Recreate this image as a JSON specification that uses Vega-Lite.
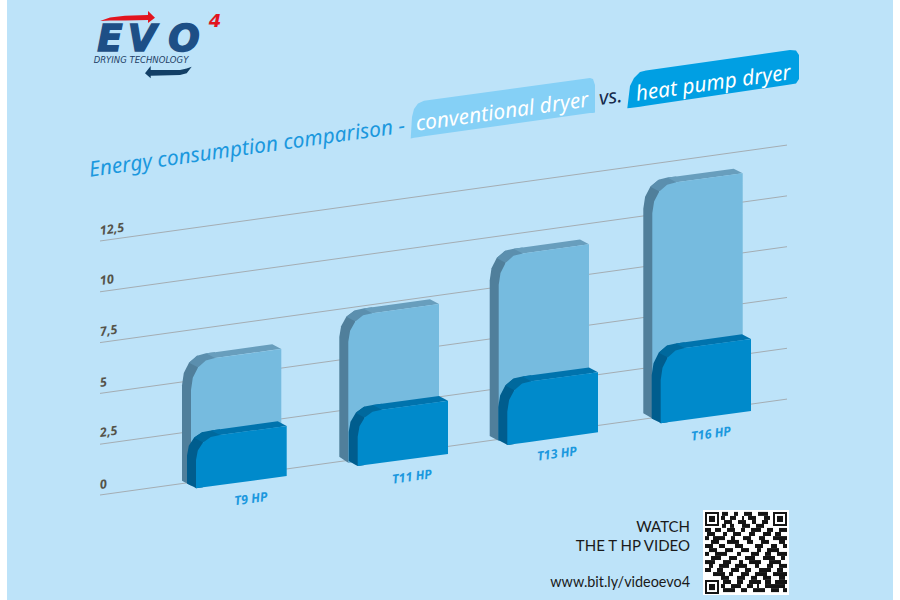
{"$schema":"https://vega.github.io/schema/vega-lite/v6.json","width":900,"height":600,"autosize":{"type":"fit","contains":"padding"},"padding":0,"background":"#ffffff","view":{"stroke":null},
"datasets":{
"bars":[
{"b":"T9","k":"ls","x":182,"y":5.40,"y2":0.70},{"b":"T9","k":"ls","x":183.8,"y":6.00,"y2":0.65},{"b":"T9","k":"ls","x":189,"y":6.51,"y2":0.52},{"b":"T9","k":"ls","x":191,"y":6.60,"y2":0.47},{"b":"T9","k":"ls","x":198,"y":6.87,"y2":0.52},
{"b":"T9","k":"lb","x":189,"y":6.51,"y2":6.51},{"b":"T9","k":"lb","x":196.8,"y":6.85,"y2":6.31},{"b":"T9","k":"lb","x":198,"y":6.87,"y2":6.28},{"b":"T9","k":"lb","x":206,"y":6.97,"y2":6.28},{"b":"T9","k":"lb","x":215,"y":7.03,"y2":6.28},
{"b":"T9","k":"lt","x":206,"y":6.97,"y2":6.97},{"b":"T9","k":"lt","x":215,"y":7.03,"y2":6.74},{"b":"T9","k":"lt","x":272.3,"y":7.42,"y2":7.13},{"b":"T9","k":"lt","x":281.3,"y":7.18,"y2":7.18},
{"b":"T9","k":"lf","x":191,"y":5.17,"y2":0.47},{"b":"T9","k":"lf","x":192.8,"y":5.77,"y2":0.48},{"b":"T9","k":"lf","x":198,"y":6.28,"y2":0.52},{"b":"T9","k":"lf","x":205.8,"y":6.62,"y2":0.57},{"b":"T9","k":"lf","x":215,"y":6.74,"y2":0.63},{"b":"T9","k":"lf","x":281.3,"y":7.18,"y2":1.07},
{"b":"T11","k":"ls","x":339.3,"y":7.77,"y2":1.88},{"b":"T11","k":"ls","x":341.1,"y":8.31,"y2":1.82},{"b":"T11","k":"ls","x":346.3,"y":8.77,"y2":1.65},{"b":"T11","k":"ls","x":348.3,"y":8.85,"y2":1.59},{"b":"T11","k":"ls","x":355.3,"y":9.09,"y2":1.64},
{"b":"T11","k":"lb","x":346.3,"y":8.77,"y2":8.77},{"b":"T11","k":"lb","x":354.1,"y":9.07,"y2":8.57},{"b":"T11","k":"lb","x":355.3,"y":9.09,"y2":8.54},{"b":"T11","k":"lb","x":363.3,"y":9.18,"y2":8.54},{"b":"T11","k":"lb","x":372.3,"y":9.24,"y2":8.54},
{"b":"T11","k":"lt","x":363.3,"y":9.18,"y2":9.18},{"b":"T11","k":"lt","x":372.3,"y":9.24,"y2":8.95},{"b":"T11","k":"lt","x":430,"y":9.63,"y2":9.34},{"b":"T11","k":"lt","x":439,"y":9.40,"y2":9.40},
{"b":"T11","k":"lf","x":348.3,"y":7.54,"y2":1.59},{"b":"T11","k":"lf","x":350.1,"y":8.08,"y2":1.60},{"b":"T11","k":"lf","x":355.3,"y":8.54,"y2":1.64},{"b":"T11","k":"lf","x":363.1,"y":8.84,"y2":1.69},{"b":"T11","k":"lf","x":372.3,"y":8.95,"y2":1.75},{"b":"T11","k":"lf","x":439,"y":9.40,"y2":2.20},
{"b":"T13","k":"ls","x":489.7,"y":10.56,"y2":2.90},{"b":"T13","k":"ls","x":491.5,"y":11.16,"y2":2.85},{"b":"T13","k":"ls","x":496.7,"y":11.66,"y2":2.72},{"b":"T13","k":"ls","x":498.7,"y":11.75,"y2":2.67},{"b":"T13","k":"ls","x":505.7,"y":12.03,"y2":2.72},
{"b":"T13","k":"lb","x":496.7,"y":11.66,"y2":11.66},{"b":"T13","k":"lb","x":504.5,"y":12.00,"y2":11.46},{"b":"T13","k":"lb","x":505.7,"y":12.03,"y2":11.43},{"b":"T13","k":"lb","x":513.7,"y":12.12,"y2":11.43},{"b":"T13","k":"lb","x":522.7,"y":12.18,"y2":11.43},
{"b":"T13","k":"lt","x":513.7,"y":12.12,"y2":12.12},{"b":"T13","k":"lt","x":522.7,"y":12.18,"y2":11.89},{"b":"T13","k":"lt","x":580,"y":12.57,"y2":12.28},{"b":"T13","k":"lt","x":589,"y":12.34,"y2":12.34},
{"b":"T13","k":"lf","x":498.7,"y":10.33,"y2":2.67},{"b":"T13","k":"lf","x":500.5,"y":10.93,"y2":2.68},{"b":"T13","k":"lf","x":505.7,"y":11.43,"y2":2.72},{"b":"T13","k":"lf","x":513.5,"y":11.77,"y2":2.77},{"b":"T13","k":"lf","x":522.7,"y":11.89,"y2":2.83},{"b":"T13","k":"lf","x":589,"y":12.34,"y2":3.27},
{"b":"T16","k":"ls","x":643.3,"y":14.09,"y2":4.02},{"b":"T16","k":"ls","x":645.1,"y":14.68,"y2":3.97},{"b":"T16","k":"ls","x":650.3,"y":15.17,"y2":3.83},{"b":"T16","k":"ls","x":652.3,"y":15.26,"y2":3.77},{"b":"T16","k":"ls","x":659.3,"y":15.53,"y2":3.82},
{"b":"T16","k":"lb","x":650.3,"y":15.17,"y2":15.17},{"b":"T16","k":"lb","x":658.1,"y":15.50,"y2":14.97},{"b":"T16","k":"lb","x":659.3,"y":15.53,"y2":14.94},{"b":"T16","k":"lb","x":667.3,"y":15.62,"y2":14.94},{"b":"T16","k":"lb","x":676.3,"y":15.68,"y2":14.94},
{"b":"T16","k":"lt","x":667.3,"y":15.62,"y2":15.62},{"b":"T16","k":"lt","x":676.3,"y":15.68,"y2":15.39},{"b":"T16","k":"lt","x":733.7,"y":16.06,"y2":15.77},{"b":"T16","k":"lt","x":742.7,"y":15.83,"y2":15.83},
{"b":"T16","k":"lf","x":652.3,"y":13.86,"y2":3.77},{"b":"T16","k":"lf","x":654.1,"y":14.45,"y2":3.78},{"b":"T16","k":"lf","x":659.3,"y":14.94,"y2":3.82},{"b":"T16","k":"lf","x":667.1,"y":15.27,"y2":3.87},{"b":"T16","k":"lf","x":676.3,"y":15.39,"y2":3.93},{"b":"T16","k":"lf","x":742.7,"y":15.83,"y2":4.38},
{"b":"T9","k":"ds","x":187,"y":1.95,"y2":0.57},{"b":"T9","k":"ds","x":188.8,"y":2.42,"y2":0.52},{"b":"T9","k":"ds","x":194,"y":2.82,"y2":0.39},{"b":"T9","k":"ds","x":196,"y":2.89,"y2":0.33},{"b":"T9","k":"ds","x":203,"y":3.10,"y2":0.38},
{"b":"T9","k":"db","x":194,"y":2.82,"y2":2.82},{"b":"T9","k":"db","x":201.8,"y":3.09,"y2":2.62},{"b":"T9","k":"db","x":203,"y":3.10,"y2":2.59},{"b":"T9","k":"db","x":211,"y":3.18,"y2":2.59},{"b":"T9","k":"db","x":220,"y":3.24,"y2":2.59},
{"b":"T9","k":"dt","x":211,"y":3.18,"y2":3.18},{"b":"T9","k":"dt","x":220,"y":3.24,"y2":2.95},{"b":"T9","k":"dt","x":277.7,"y":3.63,"y2":3.34},{"b":"T9","k":"dt","x":286.7,"y":3.40,"y2":3.40},
{"b":"T9","k":"df","x":196,"y":1.72,"y2":0.33},{"b":"T9","k":"df","x":197.8,"y":2.19,"y2":0.34},{"b":"T9","k":"df","x":203,"y":2.59,"y2":0.38},{"b":"T9","k":"df","x":210.8,"y":2.86,"y2":0.43},{"b":"T9","k":"df","x":220,"y":2.95,"y2":0.49},{"b":"T9","k":"df","x":286.7,"y":3.40,"y2":0.93},
{"b":"T11","k":"ds","x":348.7,"y":3.10,"y2":1.67},{"b":"T11","k":"ds","x":350.5,"y":3.61,"y2":1.62},{"b":"T11","k":"ds","x":355.7,"y":4.04,"y2":1.48},{"b":"T11","k":"ds","x":357.7,"y":4.12,"y2":1.43},{"b":"T11","k":"ds","x":364.7,"y":4.35,"y2":1.48},
{"b":"T11","k":"db","x":355.7,"y":4.04,"y2":4.04},{"b":"T11","k":"db","x":363.5,"y":4.33,"y2":3.84},{"b":"T11","k":"db","x":364.7,"y":4.35,"y2":3.81},{"b":"T11","k":"db","x":372.7,"y":4.43,"y2":3.81},{"b":"T11","k":"db","x":381.7,"y":4.49,"y2":3.81},
{"b":"T11","k":"dt","x":372.7,"y":4.43,"y2":4.43},{"b":"T11","k":"dt","x":381.7,"y":4.49,"y2":4.20},{"b":"T11","k":"dt","x":439,"y":4.87,"y2":4.58},{"b":"T11","k":"dt","x":448,"y":4.64,"y2":4.64},
{"b":"T11","k":"df","x":357.7,"y":2.87,"y2":1.43},{"b":"T11","k":"df","x":359.5,"y":3.38,"y2":1.44},{"b":"T11","k":"df","x":364.7,"y":3.81,"y2":1.48},{"b":"T11","k":"df","x":372.5,"y":4.10,"y2":1.53},{"b":"T11","k":"df","x":381.7,"y":4.20,"y2":1.59},{"b":"T11","k":"df","x":448,"y":4.64,"y2":2.02},
{"b":"T13","k":"ds","x":498.3,"y":4.33,"y2":2.71},{"b":"T13","k":"ds","x":500.1,"y":4.90,"y2":2.66},{"b":"T13","k":"ds","x":505.3,"y":5.39,"y2":2.52},{"b":"T13","k":"ds","x":507.3,"y":5.48,"y2":2.46},{"b":"T13","k":"ds","x":514.3,"y":5.74,"y2":2.51},
{"b":"T13","k":"db","x":505.3,"y":5.39,"y2":5.39},{"b":"T13","k":"db","x":513.1,"y":5.72,"y2":5.19},{"b":"T13","k":"db","x":514.3,"y":5.74,"y2":5.16},{"b":"T13","k":"db","x":522.3,"y":5.83,"y2":5.16},{"b":"T13","k":"db","x":531.3,"y":5.89,"y2":5.16},
{"b":"T13","k":"dt","x":522.3,"y":5.83,"y2":5.83},{"b":"T13","k":"dt","x":531.3,"y":5.89,"y2":5.60},{"b":"T13","k":"dt","x":589,"y":6.27,"y2":5.98},{"b":"T13","k":"dt","x":598,"y":6.04,"y2":6.04},
{"b":"T13","k":"df","x":507.3,"y":4.10,"y2":2.46},{"b":"T13","k":"df","x":509.1,"y":4.67,"y2":2.47},{"b":"T13","k":"df","x":514.3,"y":5.16,"y2":2.51},{"b":"T13","k":"df","x":522.1,"y":5.49,"y2":2.56},{"b":"T13","k":"df","x":531.3,"y":5.60,"y2":2.62},{"b":"T13","k":"df","x":598,"y":6.04,"y2":3.09},
{"b":"T16","k":"ds","x":651.7,"y":5.89,"y2":3.77},{"b":"T16","k":"ds","x":653.5,"y":6.49,"y2":3.72},{"b":"T16","k":"ds","x":658.7,"y":7.00,"y2":3.59},{"b":"T16","k":"ds","x":660.7,"y":7.09,"y2":3.53},{"b":"T16","k":"ds","x":667.7,"y":7.37,"y2":3.58},
{"b":"T16","k":"db","x":658.7,"y":7.00,"y2":7.00},{"b":"T16","k":"db","x":666.5,"y":7.34,"y2":6.80},{"b":"T16","k":"db","x":667.7,"y":7.37,"y2":6.77},{"b":"T16","k":"db","x":675.7,"y":7.46,"y2":6.77},{"b":"T16","k":"db","x":684.7,"y":7.52,"y2":6.77},
{"b":"T16","k":"dt","x":675.7,"y":7.46,"y2":7.46},{"b":"T16","k":"dt","x":684.7,"y":7.52,"y2":7.23},{"b":"T16","k":"dt","x":742,"y":7.91,"y2":7.62},{"b":"T16","k":"dt","x":751,"y":7.68,"y2":7.68},
{"b":"T16","k":"df","x":660.7,"y":5.66,"y2":3.53},{"b":"T16","k":"df","x":662.5,"y":6.26,"y2":3.54},{"b":"T16","k":"df","x":667.7,"y":6.77,"y2":3.58},{"b":"T16","k":"df","x":675.5,"y":7.11,"y2":3.63},{"b":"T16","k":"df","x":684.7,"y":7.23,"y2":3.69},{"b":"T16","k":"df","x":751,"y":7.68,"y2":4.13}
],
"grid":[{"level":0,"x":100,"y":0},{"level":0,"x":787,"y":4.72},{"level":2.5,"x":100,"y":2.5},{"level":2.5,"x":787,"y":7.22},{"level":5,"x":100,"y":5},{"level":5,"x":787,"y":9.72},{"level":7.5,"x":100,"y":7.5},{"level":7.5,"x":787,"y":12.22},{"level":10,"x":100,"y":10},{"level":10,"x":787,"y":14.72},{"level":12.5,"x":100,"y":12.5},{"level":12.5,"x":787,"y":17.22}],
"badges":[
{"k":"conv","x":410.7,"y":17.55,"y2":17.55},{"k":"conv","x":412,"y":18.60,"y2":17.56},{"k":"conv","x":414,"y":19.00,"y2":17.58},{"k":"conv","x":418,"y":19.27,"y2":17.61},{"k":"conv","x":424,"y":19.40,"y2":17.65},{"k":"conv","x":590,"y":20.52,"y2":18.80},{"k":"conv","x":593,"y":20.47,"y2":18.80},{"k":"conv","x":595,"y":20.18,"y2":18.82},
{"k":"heat","x":627.3,"y":19.03,"y2":19.03},{"k":"heat","x":630,"y":20.13,"y2":19.05},{"k":"heat","x":634,"y":20.52,"y2":19.07},{"k":"heat","x":640,"y":20.82,"y2":19.11},{"k":"heat","x":646,"y":20.89,"y2":19.16},{"k":"heat","x":790,"y":21.90,"y2":20.20},{"k":"heat","x":796,"y":21.87,"y2":20.25},{"k":"heat","x":799,"y":21.65,"y2":20.47}
],
"arrows":[
{"k":"red","x":100,"y":23.33,"y2":23.33},{"k":"red","x":110,"y":23.50,"y2":23.35},{"k":"red","x":125,"y":23.58,"y2":23.35},{"k":"red","x":148,"y":23.62,"y2":23.37},{"k":"red","x":148.01,"y":23.82,"y2":23.23},{"k":"red","x":155,"y":23.49,"y2":23.49},
{"k":"navy","x":145,"y":20.75,"y2":20.75},{"k":"navy","x":150.7,"y":21.11,"y2":20.51},{"k":"navy","x":150.71,"y":20.91,"y2":20.63},{"k":"navy","x":180,"y":20.91,"y2":20.67},{"k":"navy","x":186.7,"y":20.99,"y2":20.75},{"k":"navy","x":191.7,"y":21.08,"y2":21.08}
],
"qrRuns":[
{"y":-0.93,"x":722,"x2":728},{"y":-0.93,"x":734,"x2":738},{"y":-0.93,"x":744,"x2":752},{"y":-0.93,"x":758,"x2":768},
{"y":-1.13,"x":721,"x2":725},{"y":-1.13,"x":730,"x2":736},{"y":-1.13,"x":742,"x2":744},{"y":-1.13,"x":748,"x2":756},{"y":-1.13,"x":764,"x2":770},
{"y":-1.33,"x":724,"x2":732},{"y":-1.33,"x":738,"x2":746},{"y":-1.33,"x":752,"x2":756},{"y":-1.33,"x":762,"x2":768},
{"y":-1.52,"x":722,"x2":726},{"y":-1.52,"x":730,"x2":734},{"y":-1.52,"x":742,"x2":750},{"y":-1.52,"x":756,"x2":764},
{"y":-1.72,"x":705,"x2":711},{"y":-1.72,"x":715,"x2":721},{"y":-1.72,"x":727,"x2":735},{"y":-1.72,"x":741,"x2":745},{"y":-1.72,"x":751,"x2":761},{"y":-1.72,"x":767,"x2":773},{"y":-1.72,"x":779,"x2":787},
{"y":-1.92,"x":707,"x2":715},{"y":-1.92,"x":723,"x2":727},{"y":-1.92,"x":733,"x2":741},{"y":-1.92,"x":749,"x2":755},{"y":-1.92,"x":763,"x2":771},{"y":-1.92,"x":775,"x2":781},
{"y":-2.12,"x":705,"x2":709},{"y":-2.12,"x":713,"x2":725},{"y":-2.12,"x":731,"x2":735},{"y":-2.12,"x":743,"x2":751},{"y":-2.12,"x":759,"x2":765},{"y":-2.12,"x":773,"x2":787},
{"y":-2.31,"x":711,"x2":719},{"y":-2.31,"x":727,"x2":739},{"y":-2.31,"x":747,"x2":753},{"y":-2.31,"x":761,"x2":769},{"y":-2.31,"x":779,"x2":785},
{"y":-2.51,"x":705,"x2":713},{"y":-2.51,"x":719,"x2":725},{"y":-2.51,"x":735,"x2":743},{"y":-2.51,"x":755,"x2":763},{"y":-2.51,"x":771,"x2":777},{"y":-2.51,"x":783,"x2":787},
{"y":-2.71,"x":709,"x2":717},{"y":-2.71,"x":725,"x2":733},{"y":-2.71,"x":741,"x2":749},{"y":-2.71,"x":757,"x2":761},{"y":-2.71,"x":767,"x2":779},
{"y":-2.90,"x":705,"x2":709},{"y":-2.90,"x":715,"x2":727},{"y":-2.90,"x":737,"x2":741},{"y":-2.90,"x":751,"x2":759},{"y":-2.90,"x":765,"x2":771},{"y":-2.90,"x":777,"x2":787},
{"y":-3.10,"x":711,"x2":721},{"y":-3.10,"x":729,"x2":737},{"y":-3.10,"x":745,"x2":755},{"y":-3.10,"x":763,"x2":775},{"y":-3.10,"x":781,"x2":785},
{"y":-3.30,"x":705,"x2":715},{"y":-3.30,"x":723,"x2":731},{"y":-3.30,"x":739,"x2":743},{"y":-3.30,"x":749,"x2":761},{"y":-3.30,"x":769,"x2":781},
{"y":-3.49,"x":709,"x2":713},{"y":-3.49,"x":719,"x2":729},{"y":-3.49,"x":735,"x2":747},{"y":-3.49,"x":755,"x2":759},{"y":-3.49,"x":767,"x2":773},{"y":-3.49,"x":779,"x2":787},
{"y":-3.69,"x":705,"x2":711},{"y":-3.69,"x":717,"x2":723},{"y":-3.69,"x":731,"x2":739},{"y":-3.69,"x":745,"x2":751},{"y":-3.69,"x":759,"x2":771},{"y":-3.69,"x":777,"x2":783},
{"y":-3.89,"x":713,"x2":725},{"y":-3.89,"x":729,"x2":733},{"y":-3.89,"x":741,"x2":749},{"y":-3.89,"x":755,"x2":767},{"y":-3.89,"x":773,"x2":787},
{"y":-4.08,"x":721,"x2":729},{"y":-4.08,"x":737,"x2":745},{"y":-4.08,"x":751,"x2":757},{"y":-4.08,"x":763,"x2":771},{"y":-4.08,"x":779,"x2":785},
{"y":-4.28,"x":723,"x2":731},{"y":-4.28,"x":737,"x2":743},{"y":-4.28,"x":749,"x2":761},{"y":-4.28,"x":765,"x2":771},{"y":-4.28,"x":775,"x2":787},
{"y":-4.48,"x":721,"x2":725},{"y":-4.48,"x":731,"x2":741},{"y":-4.48,"x":747,"x2":753},{"y":-4.48,"x":757,"x2":759},{"y":-4.48,"x":765,"x2":785},
{"y":-4.68,"x":723,"x2":735},{"y":-4.68,"x":741,"x2":747},{"y":-4.68,"x":753,"x2":765},{"y":-4.68,"x":771,"x2":779},{"y":-4.68,"x":783,"x2":787}
]
},
"encoding":{
"x":{"field":"x","type":"quantitative","axis":null,"scale":{"domain":[0,900],"nice":false,"zero":false}},
"y":{"field":"y","type":"quantitative","axis":null,"scale":{"domain":[-5.167,24.36],"nice":false,"zero":false}}
},
"layer":[
{"data":{"values":[{"x":7,"x2":893,"y":-5.167,"y2":24.36}]},"mark":{"type":"rect","color":"#bde3f9"},"encoding":{"x2":{"field":"x2"},"y2":{"field":"y2"}}},
{"data":{"name":"grid"},"mark":{"type":"line","color":"#a4adb3","strokeWidth":1},"encoding":{"detail":{"field":"level"}}},
{"data":{"name":"bars"},"transform":[{"filter":"datum.k=='ls'"}],"mark":{"type":"area","color":"#507f9b"},"encoding":{"y2":{"field":"y2"},"detail":{"field":"b"}}},
{"data":{"name":"bars"},"transform":[{"filter":"datum.k=='lb'"}],"mark":{"type":"area","color":"#5b8fae"},"encoding":{"y2":{"field":"y2"},"detail":{"field":"b"}}},
{"data":{"name":"bars"},"transform":[{"filter":"datum.k=='lt'"}],"mark":{"type":"area","color":"#689ebd"},"encoding":{"y2":{"field":"y2"},"detail":{"field":"b"}}},
{"data":{"name":"bars"},"transform":[{"filter":"datum.k=='lf'"}],"mark":{"type":"area","color":"#76bbdf"},"encoding":{"y2":{"field":"y2"},"detail":{"field":"b"}}},
{"data":{"name":"bars"},"transform":[{"filter":"datum.k=='ds'"}],"mark":{"type":"area","color":"#005d8e"},"encoding":{"y2":{"field":"y2"},"detail":{"field":"b"}}},
{"data":{"name":"bars"},"transform":[{"filter":"datum.k=='db'"}],"mark":{"type":"area","color":"#00699d"},"encoding":{"y2":{"field":"y2"},"detail":{"field":"b"}}},
{"data":{"name":"bars"},"transform":[{"filter":"datum.k=='dt'"}],"mark":{"type":"area","color":"#0073ad"},"encoding":{"y2":{"field":"y2"},"detail":{"field":"b"}}},
{"data":{"name":"bars"},"transform":[{"filter":"datum.k=='df'"}],"mark":{"type":"area","color":"#008acb"},"encoding":{"y2":{"field":"y2"},"detail":{"field":"b"}}},
{"data":{"values":[{"t":"12,5","x":100,"y":12.99},{"t":"10","x":100,"y":10.53},{"t":"7,5","x":100,"y":8.02},{"t":"5","x":100,"y":5.51},{"t":"2,5","x":100,"y":3.05},{"t":"0","x":100,"y":0.49}]},"mark":{"type":"text","font":"Noto Sans","fontStyle":"italic","fontWeight":"bold","fontSize":12.5,"color":"#55534a","align":"left","baseline":"middle","angle":352},"encoding":{"text":{"field":"t"}}},
{"data":{"values":[{"t":"T9 HP","x":251,"y":-0.20},{"t":"T11 HP","x":412,"y":0.89},{"t":"T13 HP","x":557,"y":2.02},{"t":"T16 HP","x":711,"y":3.00}]},"mark":{"type":"text","font":"Noto Sans","fontStyle":"italic","fontWeight":"bold","fontSize":12.5,"color":"#1b98de","align":"center","baseline":"middle","angle":352},"encoding":{"text":{"field":"t"}}},
{"data":{"values":[{"t":"Energy consumption comparison -","x":90,"y":15.66}]},"mark":{"type":"text","font":"Noto Sans","fontStyle":"italic","fontSize":21,"color":"#1b98de","align":"left","baseline":"alphabetic","angle":352},"encoding":{"text":{"field":"t"}}},
{"data":{"name":"badges"},"transform":[{"filter":"datum.k=='conv'"}],"mark":{"type":"area","color":"#85d0f6"},"encoding":{"y2":{"field":"y2"}}},
{"data":{"name":"badges"},"transform":[{"filter":"datum.k=='heat'"}],"mark":{"type":"area","color":"#009fe3"},"encoding":{"y2":{"field":"y2"}}},
{"data":{"values":[{"t":"conventional dryer","x":416.7,"y":17.93},{"t":"heat pump dryer","x":636.7,"y":19.40}]},"mark":{"type":"text","font":"Noto Sans","fontStyle":"italic","fontSize":21,"color":"#ffffff","align":"left","baseline":"alphabetic","angle":352},"encoding":{"text":{"field":"t"}}},
{"data":{"values":[{"t":"vs.","x":600,"y":19.19}]},"mark":{"type":"text","font":"Noto Sans","fontStyle":"italic","fontSize":20,"color":"#14284a","align":"left","baseline":"alphabetic","angle":352},"encoding":{"text":{"field":"t"}}},
{"data":{"name":"arrows"},"transform":[{"filter":"datum.k=='red'"}],"mark":{"type":"area","color":"#e2141e"},"encoding":{"y2":{"field":"y2"}}},
{"data":{"name":"arrows"},"transform":[{"filter":"datum.k=='navy'"}],"mark":{"type":"area","color":"#123f66"},"encoding":{"y2":{"field":"y2"}}},
{"data":{"values":[{"t":"E","x":110,"y":22.40},{"t":"V","x":142,"y":22.40},{"t":"O","x":184,"y":22.40}]},"mark":{"type":"text","font":"DejaVu Sans","fontStyle":"italic","fontWeight":"bold","fontSize":37,"color":"#1d4f86","stroke":"#1d4f86","strokeWidth":1.5,"align":"center","baseline":"middle"},"encoding":{"text":{"field":"t"}}},
{"data":{"values":[{"t":"4","x":215,"y":23.3}]},"mark":{"type":"text","font":"DejaVu Sans","fontStyle":"italic","fontWeight":"bold","fontSize":18,"color":"#e2141e","align":"center","baseline":"middle"},"encoding":{"text":{"field":"t"}}},
{"data":{"values":[{"t":"DRYING TECHNOLOGY","x":141,"y":21.40}]},"mark":{"type":"text","font":"DejaVu Sans","fontStyle":"italic","fontSize":8.5,"color":"#1d3f66","align":"center","baseline":"middle"},"encoding":{"text":{"field":"t"}}},
{"data":{"values":[{"t":"WATCH","x":690,"y":-1.56},{"t":"THE T HP VIDEO","x":690,"y":-2.49}]},"mark":{"type":"text","font":"Lato","fontSize":15,"color":"#1a1a1a","align":"right","baseline":"middle"},"encoding":{"text":{"field":"t"}}},
{"data":{"values":[{"t":"www.bit.ly/videoevo4","x":690,"y":-4.32}]},"mark":{"type":"text","font":"Lato","fontSize":14.4,"color":"#1a1a1a","align":"right","baseline":"middle"},"encoding":{"text":{"field":"t"}}},
{"data":{"values":[{"x":703,"x2":789,"y":-0.74,"y2":-4.92}]},"mark":{"type":"rect","color":"#ffffff"},"encoding":{"x2":{"field":"x2"},"y2":{"field":"y2"}}},
{"data":{"name":"qrRuns"},"mark":{"type":"rule","color":"#141414","strokeWidth":4},"encoding":{"x2":{"field":"x2"}}},
{"data":{"values":[{"x":706,"x2":718,"y":-0.89,"y2":-1.48},{"x":774,"x2":786,"y":-0.89,"y2":-1.48},{"x":706,"x2":718,"y":-4.23,"y2":-4.82}]},"mark":{"type":"rect","fill":"#ffffff","stroke":"#141414","strokeWidth":2},"encoding":{"x2":{"field":"x2"},"y2":{"field":"y2"}}},
{"data":{"values":[{"x":709,"x2":715,"y":-1.03,"y2":-1.33},{"x":777,"x2":783,"y":-1.03,"y2":-1.33},{"x":709,"x2":715,"y":-4.38,"y2":-4.68}]},"mark":{"type":"rect","color":"#141414"},"encoding":{"x2":{"field":"x2"},"y2":{"field":"y2"}}}
]}
